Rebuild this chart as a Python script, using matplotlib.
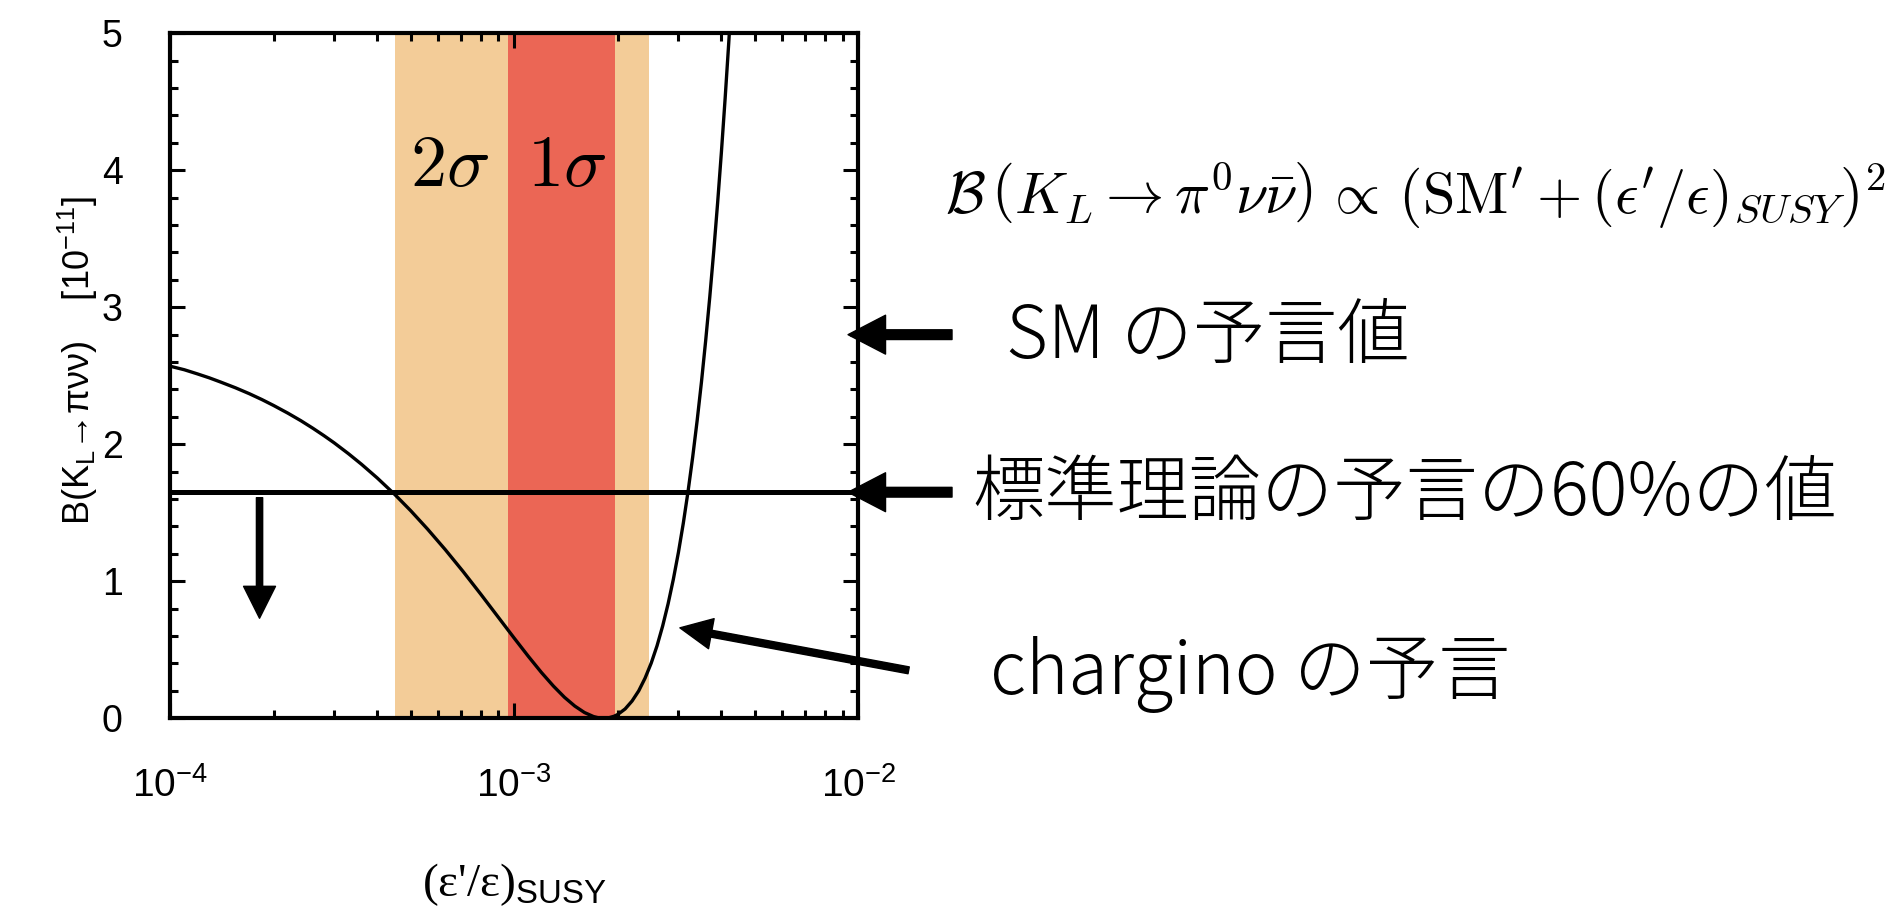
import numpy as np
import matplotlib
matplotlib.use("Agg")
import matplotlib.pyplot as plt
from matplotlib.ticker import MultipleLocator, LogLocator, NullFormatter

plt.rcParams['font.family'] = ['Liberation Sans', 'Noto Sans CJK JP', 'DejaVu Sans']
plt.rcParams['mathtext.fontset'] = 'custom'
plt.rcParams['mathtext.rm'] = 'Liberation Sans'
plt.rcParams['mathtext.it'] = 'Liberation Sans:italic'
plt.rcParams['mathtext.bf'] = 'Liberation Sans:bold'
plt.rcParams['mathtext.default'] = 'it'
plt.rcParams['axes.unicode_minus'] = False

# chargino prediction: B(K_L -> pi0 nu nubar) [1e-11] versus (eps'/eps)_SUSY [1e-3]
eps_susy_1e3 = [0.100, 0.110, 0.120, 0.130, 0.140, 0.155, 0.170, 0.185, 0.200,
                0.220, 0.240, 0.260, 0.280, 0.300, 0.330, 0.360, 0.400, 0.450,
                0.500, 0.560, 0.630, 0.710, 0.800, 0.900, 1.000, 1.100, 1.200,
                1.300, 1.400, 1.500, 1.600, 1.700, 1.760, 1.820, 1.880, 1.950,
                2.000, 2.100, 2.200, 2.300, 2.400, 2.500, 2.600, 2.700, 2.800,
                2.900, 3.000, 3.100, 3.200, 3.300, 3.400, 3.500, 3.600, 3.700,
                3.800, 3.900, 4.000, 4.100, 4.200, 4.300]
branching = [2.570, 2.544, 2.514, 2.485, 2.455, 2.412, 2.369, 2.326, 2.283,
             2.227, 2.172, 2.117, 2.063, 2.010, 1.931, 1.854, 1.754, 1.633,
             1.516, 1.381, 1.232, 1.072, 0.905, 0.736, 0.585, 0.451, 0.334,
             0.235, 0.153, 0.089, 0.042, 0.0125, 0.003, 0.000, 0.003, 0.0147,
             0.028, 0.068, 0.126, 0.200, 0.293, 0.402, 0.529, 0.674, 0.836,
             1.015, 1.211, 1.425, 1.657, 1.906, 2.172, 2.455, 2.757, 3.075,
             3.411, 3.764, 4.135, 4.523, 4.928, 5.351]

sm_prediction = 2.8          # standard-model value
limit_60 = 1.65              # 60 % of the standard-model value
band_2sigma = (4.5e-4, 2.47e-3)
band_1sigma = (0.96e-3, 1.96e-3)

color_2sigma = '#F3CC98'
color_1sigma = '#EB6655'

fig = plt.figure(figsize=(18.87, 9.06), dpi=100)
ax = fig.add_axes([0.0901, 0.2072, 0.3648, 0.7561])

ax.set_xscale('log')
ax.set_xlim(1e-4, 1e-2)
ax.set_ylim(0, 5)

ax.axvspan(*band_2sigma, color=color_2sigma, lw=0, zorder=0)
ax.axvspan(*band_1sigma, color=color_1sigma, lw=0, zorder=0.5)

x_vals = np.array(eps_susy_1e3) * 1e-3
ax.plot(x_vals, branching, color='k', lw=2.4, zorder=3)
ax.axhline(limit_60, color='k', lw=3.6, zorder=3)

# axes styling
for sp in ax.spines.values():
    sp.set_linewidth(3)
ax.yaxis.set_major_locator(MultipleLocator(1))
ax.yaxis.set_minor_locator(MultipleLocator(0.2))
ax.xaxis.set_major_locator(LogLocator(base=10, numticks=10))
ax.xaxis.set_minor_locator(LogLocator(base=10, subs=np.arange(2, 10), numticks=20))
ax.xaxis.set_minor_formatter(NullFormatter())
ax.tick_params(which='both', direction='in', top=True, right=True, width=2.2)
ax.tick_params(which='major', length=11)
ax.tick_params(which='minor', length=6)
ax.tick_params(axis='y', which='major', labelsize=27, pad=34)
ax.tick_params(axis='x', which='major', labelsize=28, pad=35)

ax.set_ylabel('B(K$_{\\rm L}$→πνν)    [10$^{-11}$]', fontsize=26,
              family=['Liberation Sans', 'DejaVu Sans'])
ax.yaxis.set_label_coords(-0.102, 0.522)
ax.set_xlabel("(ε'/ε)$_{\\rm SUSY}$", fontsize=34,
              family=['Liberation Serif', 'DejaVu Serif'])
ax.xaxis.set_label_coords(0.5, -0.208)

# band labels
ax.text(6.5e-4, 4.02, r'$2\sigma$', math_fontfamily='cm', fontsize=52,
        ha='center', va='center', zorder=4)
ax.text(1.424e-3, 4.02, r'$1\sigma$', math_fontfamily='cm', fontsize=52,
        ha='center', va='center', zorder=4)

# arrows
ax.annotate('', xy=(1.82e-4, 0.73), xytext=(1.82e-4, 1.61),
            arrowprops=dict(facecolor='k', edgecolor='k', width=4.5,
                            headwidth=23, headlength=23, shrink=0))
for yv in (sm_prediction, limit_60):
    ax.annotate('', xy=(9.33e-3, yv), xycoords='data',
                xytext=(1.136, yv), textcoords=('axes fraction', 'data'),
                arrowprops=dict(facecolor='k', edgecolor='k', width=7,
                                headwidth=28, headlength=27, shrink=0),
                annotation_clip=False)
ax.annotate('', xy=(3.03e-3, 0.66), xycoords='data',
            xytext=(1.073, 0.35), textcoords=('axes fraction', 'data'),
            arrowprops=dict(facecolor='k', edgecolor='k', width=5,
                            headwidth=22, headlength=23, shrink=0),
            annotation_clip=False)

# annotations on the right
jp = ['Noto Sans CJK JP', 'DejaVu Sans']
fig.text(0.5008, 0.7837,
         r'$\mathcal{B}\,\left(K_L\rightarrow\pi^0\nu\bar{\nu}\right)\,\propto\,'
         r'\left(\mathrm{SM}^{\prime}+(\epsilon^{\prime}/\epsilon)_{SUSY}\right)^2$',
         math_fontfamily='cm', fontsize=42, ha='left', va='center')
fig.text(0.5331, 0.627, 'SM の予言値', family=jp, fontsize=52,
         fontweight='light', ha='left', va='center')
fig.text(0.5151, 0.454, '標準理論の予言の60%の値', family=jp, fontsize=52,
         fontweight='light', ha='left', va='center')
fig.text(0.5246, 0.2556, 'chargino の予言', family=jp, fontsize=52,
         fontweight='light', ha='left', va='center')

fig.savefig('out.png', dpi=100, facecolor='white')
